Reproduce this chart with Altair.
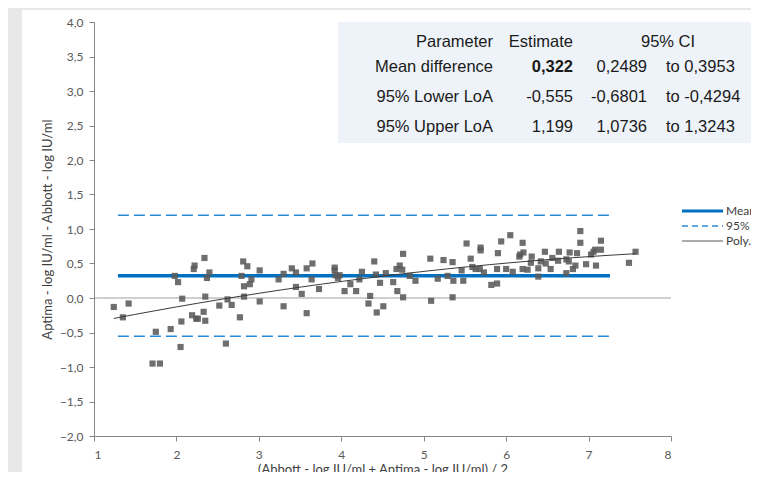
import altair as alt
import pandas as pd

# ---- data ----
mean_x = [1.24, 1.35, 1.42, 1.71, 1.80, 1.75, 1.93, 2.05, 2.06, 2.07, 1.98, 2.02, 2.19, 2.24, 2.26,
          2.33, 2.35, 2.35, 2.34, 2.22, 2.21, 2.40, 2.37, 2.52, 2.60, 2.62, 2.67, 2.77, 2.81, 2.86,
          2.79, 2.91, 2.89, 2.82, 2.82, 3.01, 3.01, 3.24, 3.30, 3.40, 3.45, 3.45, 3.52, 3.30, 3.58,
          3.65, 3.64, 3.58, 3.73, 3.92, 3.92, 3.93, 3.98, 3.96, 4.04, 4.11, 4.18, 4.25, 4.22, 4.35,
          4.33, 4.40, 4.42, 4.47, 4.51, 4.43, 4.54, 4.63, 4.68, 4.75, 4.75, 4.67, 4.71, 4.74, 4.83,
          4.90, 5.08, 5.17, 5.09, 5.24, 5.29, 5.35, 5.36, 5.35, 5.46, 5.48, 5.52, 5.57, 5.59, 5.63,
          5.69, 5.69, 5.68, 5.73, 5.82, 5.89, 5.90, 5.94, 5.89, 6.00, 6.05, 6.08, 6.20, 6.17, 6.16,
          6.21, 6.20, 6.26, 6.31, 6.30, 6.39, 6.39, 6.42, 6.47, 6.48, 6.54, 6.56, 6.63, 6.64, 6.73,
          6.73, 6.76, 6.77, 6.81, 6.84, 6.86, 6.90, 6.90, 6.97, 7.03, 7.06, 7.09, 7.08, 7.15, 7.15,
          7.49, 7.57]
diff_y = [-0.13, -0.28, -0.08, -0.95, -0.95, -0.49, -0.45, -0.71, -0.34, -0.01, 0.32, 0.23, -0.25, -0.30, -0.30,
          -0.20, -0.33, 0.02, 0.58, 0.47, 0.42, 0.37, 0.29, -0.11, -0.66, -0.02, -0.10, -0.28, 0.53, 0.46,
          0.32, 0.27, 0.20, 0.17, 0.02, -0.05, 0.40, 0.27, 0.35, 0.43, 0.37, 0.16, 0.06, -0.12, 0.43,
          0.50, 0.27, -0.22, 0.13, 0.44, 0.40, 0.33, 0.33, 0.29, 0.10, 0.20, 0.10, 0.38, 0.27, 0.03,
          -0.08, 0.53, 0.34, 0.22, -0.12, -0.21, 0.36, 0.23, 0.10, 0.01, 0.64, 0.42, 0.47, 0.41, 0.32,
          0.25, 0.57, 0.28, -0.04, 0.55, 0.32, 0.52, 0.25, 0.01, 0.40, 0.25, 0.79, 0.57, 0.45, 0.42,
          0.73, 0.69, 0.42, 0.37, 0.19, 0.21, 0.65, 0.82, 0.42, 0.42, 0.91, 0.38, 0.80, 0.63, 0.60,
          0.66, 0.42, 0.41, 0.60, 0.51, 0.31, 0.43, 0.53, 0.67, 0.50, 0.42, 0.58, 0.54, 0.67, 0.56,
          0.36, 0.53, 0.66, 0.42, 0.47, 0.65, 0.80, 0.97, 0.49, 0.63, 0.67, 0.47, 0.70, 0.70, 0.83,
          0.51, 0.67]

line_x = [1.29, 7.26]
mean_diff = 0.322
lower_loa = -0.555
upper_loa = 1.199

headers = ["Parameter", "Estimate", "95% CI"]
params = ["Mean difference", "95% Lower LoA", "95% Upper LoA"]
estimates = ["0,322", "-0,555", "1,199"]
ci_low = ["0,2489", "-0,6801", "1,0736"]
ci_high = ["to 0,3953", "to -0,4294", "to 1,3243"]
legend_labels = ["Mean difference", "95% Limits of agreement", "Poly. (Differences)"]

y_ticks = [-2.0, -1.5, -1.0, -0.5, 0.0, 0.5, 1.0, 1.5, 2.0, 2.5, 3.0, 3.5, 4.0]
x_ticks = [1, 2, 3, 4, 5, 6, 7, 8]

# ---- styling ----
AXIS_FONT = "Lato"
TABLE_FONT = "Liberation Sans"
BLUE = "#0070C0"
DASH_BLUE = "#2A8AD4"

x_enc = alt.X("x:Q", scale=alt.Scale(domain=[1, 8], nice=False, zero=False),
              axis=alt.Axis(values=x_ticks, format="d", grid=False, zindex=1,
                            domainColor="#868686", tickColor="#868686", tickSize=5,
                            labelColor="#595959", labelFont=AXIS_FONT, labelFontSize=12,
                            labelPadding=8,
                            title="(Abbott - log IU/ml + Aptima - log IU/ml) / 2",
                            titleFont=AXIS_FONT, titleFontSize=13, titleFontWeight="normal",
                            titleColor="#404040", titlePadding=3))
y_enc = alt.Y("y:Q", scale=alt.Scale(domain=[-2, 4], nice=False, zero=False),
              axis=alt.Axis(values=y_ticks, grid=False, zindex=1,
                            labelExpr="replace(format(datum.value, '.1f'), '.', ',')",
                            domainColor="#868686", tickColor="#868686", tickSize=5,
                            labelColor="#595959", labelFont=AXIS_FONT, labelFontSize=12,
                            labelPadding=6,
                            title="Aptima - log IU/ml - Abbott - log IU/ml",
                            titleFont=AXIS_FONT, titleFontSize=13, titleFontWeight="normal",
                            titleColor="#404040", titlePadding=5))

one = pd.DataFrame({"k": [0]})

panel = alt.Chart(one).mark_rect(fill="white").encode(
    x=alt.value(-72), x2=alt.value(700), y=alt.value(-12), y2=alt.value(470))

table_bg = alt.Chart(one).mark_rect(fill="#eef3f9").encode(
    x=alt.value(244), x2=alt.value(700), y=alt.value(0), y2=alt.value(121))

zero_df = pd.DataFrame({"x": [1], "x2": [8], "y": [0]})
zero = alt.Chart(zero_df).mark_rule(color="#bfbfbf", strokeWidth=1.5).encode(
    x=x_enc, x2="x2:Q", y=y_enc)

mean_df = pd.DataFrame({"x": line_x, "y": [mean_diff, mean_diff]})
mean_line = alt.Chart(mean_df).mark_line(color=BLUE, strokeWidth=3.5).encode(x=x_enc, y=y_enc)

loa_df = pd.DataFrame({"x": line_x * 2, "y": [lower_loa, lower_loa, upper_loa, upper_loa],
                       "k": ["lo", "lo", "hi", "hi"]})
loa_lines = alt.Chart(loa_df).mark_line(color=DASH_BLUE, strokeWidth=1.6, strokeDash=[11, 5]).encode(
    x=x_enc, y=y_enc, detail="k:N")

pts_df = pd.DataFrame({"x": mean_x, "y": diff_y})
points = alt.Chart(pts_df).mark_square(size=38, color="#5a5a5a", opacity=0.88).encode(x=x_enc, y=y_enc)

trend = alt.Chart(pts_df).transform_regression("x", "y", method="poly", order=2).mark_line(
    color="#3a3a3a", strokeWidth=1).encode(x=x_enc, y=y_enc)

layers = [panel, table_bg, zero, loa_lines, mean_line, points, trend]

# legend (manual)
leg_y = [189, 204, 219]
leg_styles = [dict(color=BLUE, strokeWidth=3), dict(color=DASH_BLUE, strokeWidth=1.6, strokeDash=[6, 4]),
              dict(color="#595959", strokeWidth=1)]
for i, lab in enumerate(legend_labels):
    layers.append(alt.Chart(one).mark_rule(**leg_styles[i]).encode(
        x=alt.value(588), x2=alt.value(629), y=alt.value(leg_y[i])))
    layers.append(alt.Chart(one).mark_text(text=lab, align="left", baseline="middle",
                                           font=AXIS_FONT, fontSize=12, color="#404040").encode(
        x=alt.value(632), y=alt.value(leg_y[i])))

# table text
row_y = [19.7, 44.7, 74.7, 104.7]
def cell(text, x, y, align, bold=False):
    return alt.Chart(one).mark_text(text=text, align=align, baseline="middle", font=TABLE_FONT,
                                    fontSize=16.5, color="#1a1a1a",
                                    fontWeight="bold" if bold else "normal").encode(
        x=alt.value(x), y=alt.value(y))

layers.append(cell(headers[0], 399, row_y[0], "right"))
layers.append(cell(headers[1], 479, row_y[0], "right"))
layers.append(cell(headers[2], 574, row_y[0], "center"))
for i in range(3):
    layers.append(cell(params[i], 399, row_y[i + 1], "right"))
    layers.append(cell(estimates[i], 479, row_y[i + 1], "right", bold=(i == 0)))
    layers.append(cell(ci_low[i], 553, row_y[i + 1], "right"))
    layers.append(cell(ci_high[i], 572, row_y[i + 1], "left"))

chart = alt.layer(*layers).properties(
    width=577, height=414,
    autosize=alt.AutoSizeParams(type="none"),
    padding={"left": 86, "top": 14, "right": 80, "bottom": 36},
    background="#e8e8e8",
).configure_view(stroke=None)

chart.save("out.html", embed_options={"renderer": "svg", "actions": False})
